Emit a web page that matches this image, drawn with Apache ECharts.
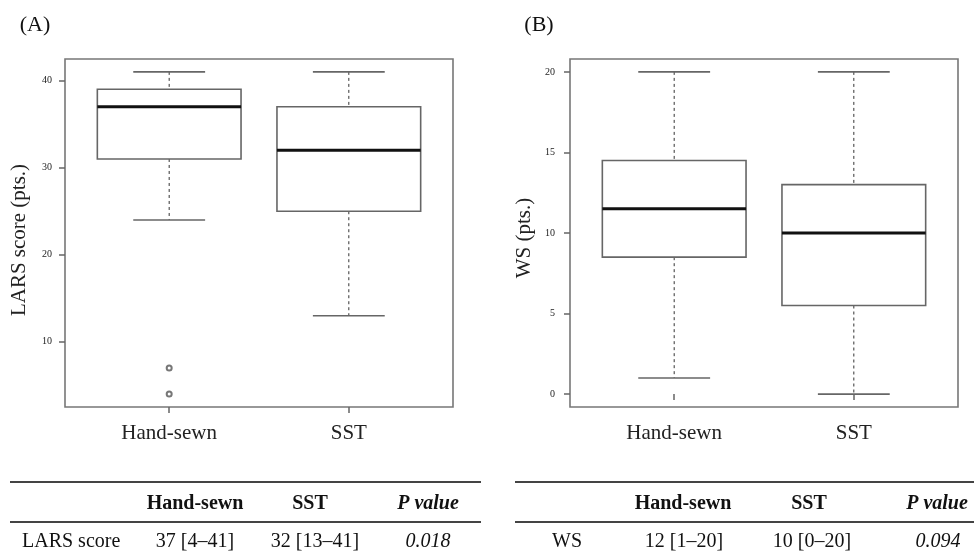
<!DOCTYPE html>
<html>
<head>
<meta charset="utf-8">
<script src="https://cdn.jsdelivr.net/npm/echarts@6/dist/echarts.min.js"></script>
<style>
html,body{margin:0;padding:0;background:#fff;}
#chart{width:974px;height:558px;}
</style>
</head>
<body>
<div id="chart"></div>
<script>
// ---- data ----
const categories = ['Hand-sewn', 'SST'];
// [lower whisker, Q1, median, Q3, upper whisker]
const larsStats = [[24, 31, 37, 39, 41], [13, 25, 32, 37, 41]];
const larsOutliers = [[1, 7], [1, 4]];
const wsStats = [[1, 8.5, 11.5, 14.5, 20], [0, 5.5, 10, 13, 20]];
const wsOutliers = [];
const larsTicks = [10, 20, 30, 40];
const wsTicks = [0, 5, 10, 15, 20];
const catPositions = [1, 2];

const tableHeader = ['Hand-sewn', 'SST', 'P value'];
const tableA = ['LARS score', '37 [4\u201341]', '32 [13\u201341]', '0.018'];
const tableB = ['WS', '12 [1\u201320]', '10 [0\u201320]', '0.094'];

// ---- chart ----
const FONT = 'Liberation Serif';
const chart = echarts.init(document.getElementById('chart'));

function boxData(stats) {
  return stats.map((s, i) => [catPositions[i]].concat(s));
}

function renderBox(params, api) {
  const x = api.value(0);
  const lo = api.value(1), q1 = api.value(2), md = api.value(3), q3 = api.value(4), hi = api.value(5);
  const bw = 0.4, cw = 0.2;
  const tl = api.coord([x - bw, q3]);
  const br = api.coord([x + bw, q1]);
  const pHi = api.coord([x, hi]), pQ3 = api.coord([x, q3]);
  const pQ1 = api.coord([x, q1]), pLo = api.coord([x, lo]);
  const cL = api.coord([x - cw, hi])[0], cR = api.coord([x + cw, hi])[0];
  const mL = api.coord([x - bw, md]), mR = api.coord([x + bw, md]);
  const dash = {stroke: '#333', lineWidth: 1, lineDash: [3, 3]};
  const solid = {stroke: '#666', lineWidth: 1.6};
  return {
    type: 'group',
    children: [
      {type: 'line', shape: {x1: pHi[0], y1: pHi[1], x2: pQ3[0], y2: pQ3[1]}, style: dash},
      {type: 'line', shape: {x1: pQ1[0], y1: pQ1[1], x2: pLo[0], y2: pLo[1]}, style: dash},
      {type: 'line', shape: {x1: cL, y1: pHi[1], x2: cR, y2: pHi[1]}, style: solid},
      {type: 'line', shape: {x1: cL, y1: pLo[1], x2: cR, y2: pLo[1]}, style: solid},
      {type: 'rect', shape: {x: tl[0], y: tl[1], width: br[0] - tl[0], height: br[1] - tl[1]},
        style: {fill: '#fff', stroke: '#666', lineWidth: 1.6}},
      {type: 'line', shape: {x1: mL[0], y1: mL[1], x2: mR[0], y2: mR[1]},
        style: {stroke: '#111', lineWidth: 3}}
    ]
  };
}

function xAxisFor(gridIndex) {
  return {
    type: 'value', gridIndex: gridIndex, min: 0.42, max: 2.58,
    axisLine: {show: false},
    splitLine: {show: false},
    axisTick: {show: true, length: 6, customValues: catPositions, lineStyle: {color: '#666', width: 1.5}},
    axisLabel: {
      customValues: catPositions, margin: 16,
      formatter: v => categories[Math.round(v) - 1] || '',
      fontFamily: FONT, fontSize: 21, color: '#222'
    }
  };
}

function yAxisFor(gridIndex, min, max, ticks, name, margin, shift) {
  return {
    type: 'value', gridIndex: gridIndex, min: min, max: max,
    name: name, nameLocation: 'middle', nameGap: 35, nameRotate: 90,
    nameTextStyle: {fontFamily: FONT, fontSize: 21, color: '#222', padding: [0, shift, 0, 0]},
    axisLine: {show: false},
    splitLine: {show: false},
    axisTick: {show: true, length: 6, customValues: ticks, lineStyle: {color: '#666', width: 1.5}},
    axisLabel: {customValues: ticks, margin: margin, fontFamily: FONT, fontSize: 10, color: '#222'}
  };
}

const gridStyle = {show: true, borderColor: '#777', borderWidth: 1.6, backgroundColor: 'transparent'};

function textEl(x, y, str, opts) {
  return {
    type: 'text', x: x, y: y, silent: true,
    style: Object.assign({
      text: str, fontFamily: FONT, fontSize: 20, fill: '#111',
      align: 'center', verticalAlign: 'middle'
    }, opts || {})
  };
}
function hline(x1, x2, y) {
  return {type: 'line', silent: true, shape: {x1: x1, y1: y, x2: x2, y2: y},
    style: {stroke: '#444', lineWidth: 2}};
}

const headStyle = {fontWeight: 'bold'};
const pStyle = {fontWeight: 'bold', fontStyle: 'italic'};
const graphics = [
  textEl(35, 25, '(A)', {fontSize: 22}),
  textEl(539, 25, '(B)', {fontSize: 22}),
  // table A
  hline(10, 481, 482), hline(10, 481, 522),
  textEl(195, 504, tableHeader[0], headStyle),
  textEl(310, 504, tableHeader[1], headStyle),
  textEl(428, 504, tableHeader[2], pStyle),
  textEl(22, 542, tableA[0], {align: 'left'}),
  textEl(195, 542, tableA[1]),
  textEl(315, 542, tableA[2]),
  textEl(428, 542, tableA[3], {fontStyle: 'italic'}),
  // table B
  hline(515, 974, 482), hline(515, 974, 522),
  textEl(683, 504, tableHeader[0], headStyle),
  textEl(809, 504, tableHeader[1], headStyle),
  textEl(937, 504, tableHeader[2], pStyle),
  textEl(567, 542, tableB[0]),
  textEl(684, 542, tableB[1]),
  textEl(812, 542, tableB[2]),
  textEl(938, 542, tableB[3], {fontStyle: 'italic'})
];

chart.setOption({
  animation: false,
  backgroundColor: '#fff',
  grid: [
    Object.assign({left: 65, top: 59, width: 388, height: 348}, gridStyle),
    Object.assign({left: 570, top: 59, width: 388, height: 348}, gridStyle)
  ],
  xAxis: [xAxisFor(0), xAxisFor(1)],
  yAxis: [
    yAxisFor(0, 2.52, 42.48, larsTicks, 'LARS score (pts.)', 13, 14),
    yAxisFor(1, -0.8, 20.8, wsTicks, 'WS (pts.)', 15, 10)
  ],
  series: [
    {type: 'custom', xAxisIndex: 0, yAxisIndex: 0, renderItem: renderBox,
      encode: {x: 0, y: [1, 2, 3, 4, 5]}, data: boxData(larsStats), z: 2},
    {type: 'custom', xAxisIndex: 1, yAxisIndex: 1, renderItem: renderBox,
      encode: {x: 0, y: [1, 2, 3, 4, 5]}, data: boxData(wsStats), z: 2},
    {type: 'scatter', xAxisIndex: 0, yAxisIndex: 0, data: larsOutliers,
      symbol: 'emptyCircle', symbolSize: 5, itemStyle: {color: '#555', borderWidth: 1}, z: 3},
    {type: 'scatter', xAxisIndex: 1, yAxisIndex: 1, data: wsOutliers,
      symbol: 'emptyCircle', symbolSize: 5, itemStyle: {color: '#555'}, z: 3}
  ],
  graphic: graphics
});
</script>
</body>
</html>
